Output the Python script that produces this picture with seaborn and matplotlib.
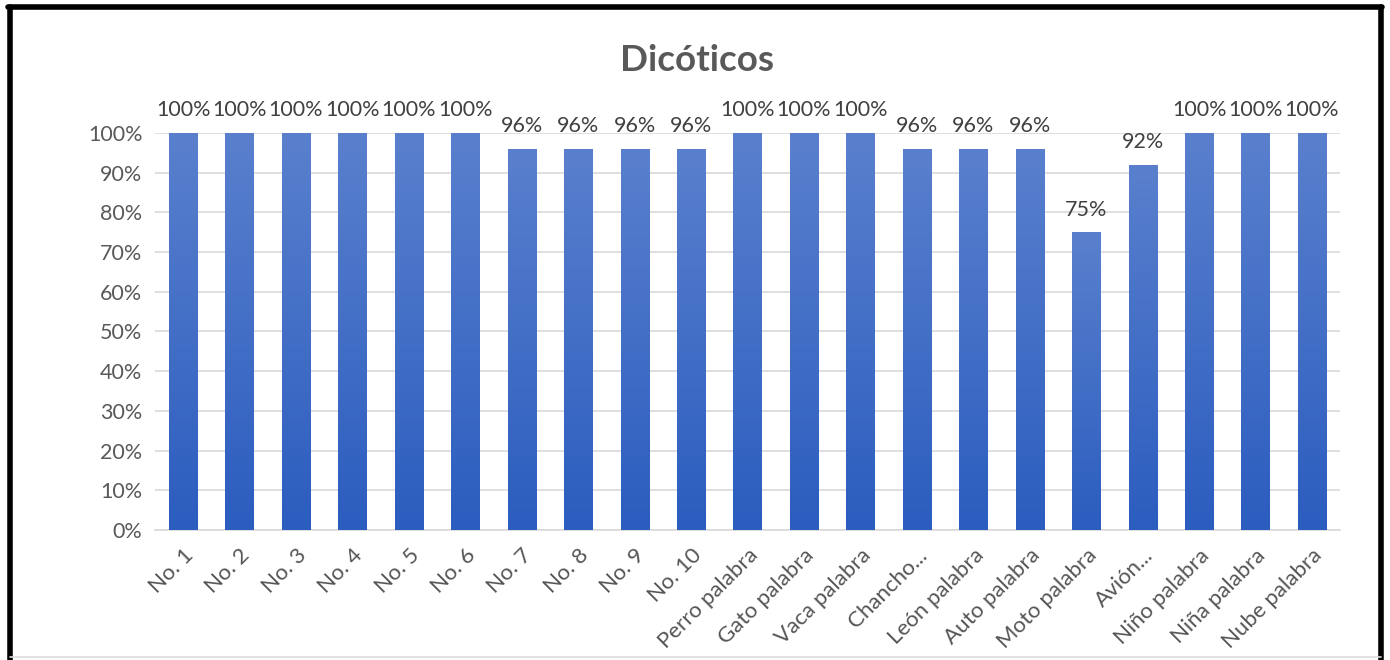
import numpy as np
import pandas as pd
import matplotlib
matplotlib.use("Agg")
import matplotlib.pyplot as plt
from matplotlib.lines import Line2D
from matplotlib.colors import LinearSegmentedColormap
import seaborn as sns

categories = ["No. 1", "No. 2", "No. 3", "No. 4", "No. 5", "No. 6", "No. 7",
              "No. 8", "No. 9", "No. 10", "Perro palabra", "Gato palabra",
              "Vaca palabra", "Chancho...", "León palabra", "Auto palabra",
              "Moto palabra", "Avión...", "Niño palabra", "Niña palabra",
              "Nube palabra"]
percent = [100, 100, 100, 100, 100, 100, 96, 96, 96, 96, 100, 100, 100,
           96, 96, 96, 75, 92, 100, 100, 100]
y_ticks = [0, 10, 20, 30, 40, 50, 60, 70, 80, 90, 100]

df = pd.DataFrame({"item": categories, "value": [p / 100 for p in percent]})

sns.set_theme(style="white")
plt.rcParams["font.family"] = ["Lato", "DejaVu Sans"]

fig = plt.figure(figsize=(13.9, 6.6), dpi=100)
ax = fig.add_axes([0.1114, 0.197, 0.8528, 0.6015])

sns.barplot(data=df, x="item", y="value", color="#4472c4", width=0.5,
            saturation=1, ax=ax, zorder=3)

# vertical gradient fill for each bar
grad = LinearSegmentedColormap.from_list("bar", ["#2b5dbf", "#5a80cd"])
gimg = np.linspace(0, 1, 256).reshape(-1, 1)
for patch in ax.patches:
    x0, y0 = patch.get_x(), patch.get_y()
    w, h = patch.get_width(), patch.get_height()
    patch.set_facecolor("none")
    patch.set_edgecolor("none")
    im = ax.imshow(gimg, cmap=grad, origin="lower", aspect="auto",
                   extent=[x0, x0 + w, y0, y0 + h], zorder=3,
                   interpolation="bicubic")
    im.set_clip_path(patch)

ax.set_xlim(-0.5, len(categories) - 0.5)
ax.set_ylim(0, 1)
ax.set_yticks([t / 100 for t in y_ticks])
ax.set_yticklabels([f"{t}%" for t in y_ticks])
ax.yaxis.grid(True, color="#d9d9d9", linewidth=1.2, zorder=0)
ax.set_axisbelow(True)
for s in ["top", "right", "left"]:
    ax.spines[s].set_visible(False)
ax.spines["bottom"].set_color("#d9d9d9")
ax.spines["bottom"].set_linewidth(1.2)
ax.set_xlabel("")
ax.set_ylabel("")
ax.tick_params(axis="both", length=0, colors="#595959", labelsize=15.5)
ax.tick_params(axis="y", pad=9)
plt.setp(ax.get_xticklabels(), rotation=45, ha="right",
         rotation_mode="anchor", fontsize=16, color="#555555")
ax.tick_params(axis="x", pad=11)

for i, p in enumerate(percent):
    ax.annotate(f"{p}%", (i, p / 100), xytext=(0, 9),
                textcoords="offset points", ha="center", va="bottom",
                fontsize=15.5, color="#404040", clip_on=False)

fig.text(0.5015, 0.909, "Dicóticos", ha="center", va="center",
         fontsize=26.5, fontweight="bold", color="#595959")

# frame around the figure
fig.add_artist(Line2D([0.0069, 0.0069], [0.0, 0.989], color="black",
                      linewidth=4, transform=fig.transFigure))
fig.add_artist(Line2D([0.0058, 0.9942], [0.989, 0.989], color="black",
                      linewidth=4, transform=fig.transFigure))
fig.add_artist(Line2D([0.9935, 0.9935], [0.0, 0.989], color="black",
                      linewidth=4, transform=fig.transFigure))
fig.add_artist(Line2D([0.0069, 0.9935], [0.004, 0.004], color="#dddddd",
                      linewidth=1.2, transform=fig.transFigure))

fig.savefig("out.png", dpi=100)
